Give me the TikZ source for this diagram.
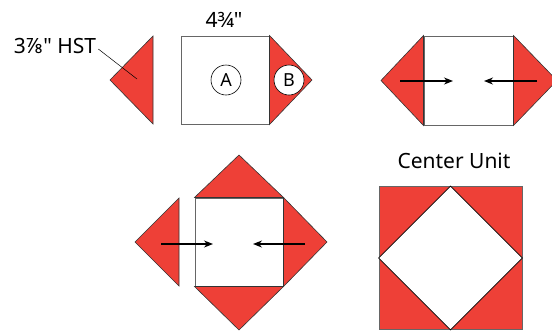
\documentclass[tikz,border=0pt]{standalone}
\usepackage{fontspec}
\setmainfont{Noto Sans}
\newfontfamily\plainsans{Noto Sans}
\usetikzlibrary{arrows.meta}
\definecolor{hstred}{HTML}{EE4037}

\begin{document}
\begin{tikzpicture}[x=1pt, y=-1pt,
  hst/.style={fill=hstred, draw=black!80, line width=0.6pt},
  blk/.style={fill=white, draw=black!60, line width=1pt, inner sep=0pt},
  tag/.style={circle, draw=black, fill=white, line width=0.6pt, minimum size=30pt, inner sep=0pt, font={\plainsans\fontsize{18}{18}\selectfont}},
  push/.style={-{Stealth[length=9pt, width=7pt]}, line width=1.4pt},
  lbl/.style={inner sep=0pt, font={\plainsans\fontsize{21}{21}\selectfont}}]

\useasboundingbox (0,0) rectangle (552,333);

% one HST and the A square
\draw[hst] (153,36) -- (110,80) -- (153,124) -- cycle;
\node[blk, minimum size=88pt] (sqa) at (225,80) {};
\draw[hst] (sqa.north east) -- (312,80) -- (sqa.south east) -- cycle;
\node[tag] (ca) at (226,80) {A};
\node[tag] (cb) at (289,80) {B};
\node[lbl] (dim) at (224,20) {4¾"};
\node[lbl] (hsttxt) at (55,46) {3⅞" HST};
\coordinate (hstpt) at (137,79);
\draw[line width=0.5pt] ([xshift=2pt, yshift=-3pt]hsttxt.east) -- (hstpt);

% sew on the sides
\node[blk, minimum size=89pt] (sqb) at (468.5,80.5) {};
\draw[hst] (sqb.north west) -- (381,80.5) -- (sqb.south west) -- cycle;
\draw[hst] (sqb.north east) -- (557,80.5) -- (sqb.south east) -- cycle;
\coordinate (lb1) at (400,81);
\coordinate (lb2) at (453,81);
\coordinate (rb1) at (537,81);
\coordinate (rb2) at (484,81);
\draw[push] (lb1) -- (lb2);
\draw[push] (rb1) -- (rb2);

% sew top, bottom and the rest
\node[blk, minimum size=88pt] (sqc) at (239,242) {};
\draw[hst] (sqc.north west) -- (239,155) -- (sqc.north east) -- cycle;
\draw[hst] (sqc.south west) -- (239,330) -- (sqc.south east) -- cycle;
\draw[hst] (sqc.north east) -- (327,242) -- (sqc.south east) -- cycle;
\draw[hst] (179,198) -- (135,242) -- (179,286) -- cycle;
\coordinate (lc1) at (161,244);
\coordinate (lc2) at (213,244);
\coordinate (rc1) at (305,244);
\coordinate (rc2) at (253,244);
\draw[push] (lc1) -- (lc2);
\draw[push] (rc1) -- (rc2);

% finished unit
\node[lbl] (unit) at (454,161) {Center Unit};
\node[blk, fill=hstred, minimum size=143pt, line width=0.8pt] (sqd) at (450.5,258) {};
\draw[fill=white, draw=black, line width=0.6pt] (sqd.north) -- (sqd.east) -- (sqd.south) -- (sqd.west) -- cycle;

\end{tikzpicture}
\end{document}
